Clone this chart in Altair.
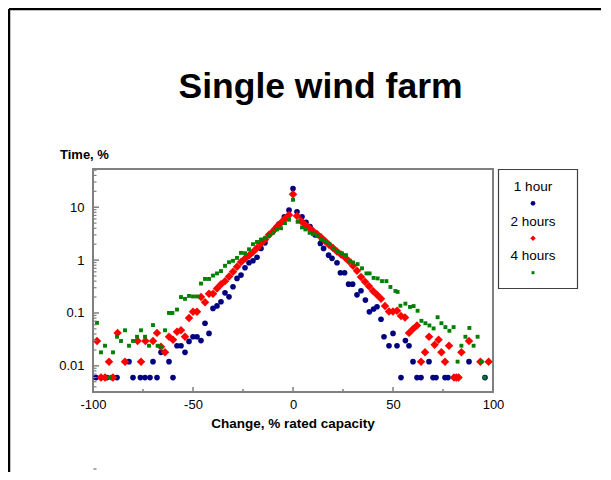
import altair as alt
import pandas as pd

# ---------------- data ----------------
series_names = ["1 hour", "2 hours", "4 hours"]
series_colors = ["#000080", "#ff0000", "#008000"]
series_shapes = ["circle", "diamond", "square"]

blue_x = [-98.5, -96, -93, -90.5, -88, -82, -80, -76.3, -74, -71.5, -70, -68, -66, -62, -60,
          -58, -56, -54, -52, -50, -48, -46, -44, -42, -40, -38, -36, -34, -32, -30, -28, -26,
          -24, -22, -20, -18, -16, -14, -12, -9.5, -7, -4.3, -2, 0, 2, 4.5, 6.5, 8.5, 11, 13.7,
          15.3, 17.8, 19.5, 22, 23.7, 25.8, 27.8, 29.8, 32, 34, 36.2, 38.2, 40.3, 42, 44, 45.5,
          48, 50, 52, 54, 56.2, 58, 60, 62, 64, 68, 70, 71.5, 76, 77.5, 88, 96]
blue_y = [0.006, 0.006, 0.006, 0.006, 0.006, 0.012, 0.006, 0.006, 0.006, 0.006, 0.012, 0.006,
          0.018, 0.012, 0.006, 0.024, 0.024, 0.018, 0.029, 0.0355, 0.0355, 0.03, 0.064, 0.041,
          0.122, 0.136, 0.163, 0.24, 0.202, 0.313, 0.45, 0.52, 0.716, 0.89, 0.97, 1.13, 1.66,
          2.12, 2.97, 3.69, 4.8, 6.6, 8.8, 22.6, 8.2, 6.6, 5.2, 4.3, 3.0, 2.07, 1.66, 1.24, 1.08,
          0.89, 0.575, 0.575, 0.35, 0.35, 0.22, 0.263, 0.175, 0.105, 0.119, 0.131, 0.076, 0.0355,
          0.024, 0.041, 0.024, 0.006, 0.03, 0.024, 0.012, 0.006, 0.006, 0.012, 0.006, 0.006,
          0.006, 0.006, 0.012, 0.006]

red_x = [-98, -96, -94, -92, -90, -87.7, -84, -77.7, -76, -73.8, -70, -68, -66, -64, -62, -60,
         -58, -56, -54, -52, -50, -48, -46, -44, -42, -40, -38, -36, -34, -32, -30, -28, -26, -24,
         -22, -20, -18, -16, -14, -12, -10, -8, -6, -4, -2, 0, 2, 4, 6, 8, 10, 12, 14, 16, 18, 20,
         22, 24, 26, 28, 30, 32, 34, 36, 38, 40, 42, 44, 46, 48, 50, 52, 54, 56, 58, 60, 62, 64,
         66, 68, 70.8, 72.8, 74.2, 76, 78, 80.5, 81.7, 82.8, 84.2, 88, 93.7, 97.8]
red_y = [0.0295, 0.006, 0.006, 0.012, 0.006, 0.042, 0.012, 0.0295, 0.012, 0.0295, 0.0295, 0.042,
         0.023, 0.018, 0.0355, 0.031, 0.044, 0.047, 0.0355, 0.08, 0.105, 0.105, 0.2, 0.16, 0.23,
         0.23, 0.29, 0.35, 0.4, 0.49, 0.6, 0.75, 0.92, 1.07, 1.22, 1.42, 1.7, 2.05, 2.45, 3.0, 3.5,
         4.3, 5.1, 6.1, 7.1, 17.5, 6.8, 5.5, 4.7, 4.1, 3.55, 3.1, 2.7, 2.3, 1.95, 1.7, 1.45, 1.28,
         1.12, 0.95, 0.78, 0.63, 0.48, 0.39, 0.32, 0.26, 0.22, 0.185, 0.135, 0.107, 0.107, 0.11,
         0.088, 0.082, 0.042, 0.05, 0.058, 0.012, 0.018, 0.0355, 0.025, 0.031, 0.018, 0.012, 0.024,
         0.006, 0.006, 0.006, 0.018, 0.0295, 0.012, 0.012]

green_x = [-98, -96, -94, -92, -90, -88, -86, -84, -82, -80, -78, -76, -74, -72, -70, -67.7, -66,
           -64, -62, -60.3, -58, -56, -54, -52, -50, -48, -46, -44, -42, -40, -38, -36, -34, -32,
           -30, -28, -26, -24, -22, -20, -18, -16, -14, -12, -10, -8, -6, -4, -2, 0, 2.3, 4.5, 6.2,
           8.3, 10, 12, 14, 16.2, 18.2, 20.3, 22.3, 24.5, 26.5, 28.5, 30, 32.3, 34.5, 36.7, 38.3,
           40.3, 42.3, 44.5, 46.7, 48.7, 51.2, 52.3, 53.7, 56.2, 58.5, 60.3, 62.3, 64.2, 66.2, 68.2,
           70.3, 72.3, 74.2, 76.2, 78.2, 80.3, 82.3, 84.2, 86.2, 88.2, 90.3, 92.3, 94.2, 95.8]
green_y = [0.065, 0.018, 0.024, 0.006, 0.018, 0.0355, 0.0295, 0.047, 0.024, 0.0295, 0.0355, 0.047,
           0.0355, 0.024, 0.059, 0.024, 0.023, 0.047, 0.1, 0.1, 0.116, 0.2, 0.185, 0.21, 0.205,
           0.205, 0.36, 0.44, 0.44, 0.51, 0.56, 0.62, 0.78, 0.91, 0.97, 1.1, 1.37, 1.35, 1.6, 2.0,
           2.2, 2.45, 2.6, 2.9, 3.3, 3.8, 4.0, 5.0, 5.8, 13.8, 5.3, 4.15, 3.8, 3.28, 3.1, 2.85,
           2.46, 2.22, 2.0, 1.66, 1.44, 1.34, 1.24, 0.97, 0.9, 0.84, 0.7, 0.56, 0.56, 0.46, 0.45,
           0.4, 0.4, 0.31, 0.26, 0.25, 0.137, 0.15, 0.13, 0.135, 0.11, 0.071, 0.064, 0.058, 0.051,
           0.083, 0.064, 0.054, 0.046, 0.054, 0.012, 0.024, 0.0355, 0.052, 0.024, 0.0355, 0.012,
           0.006]

x_major = [-100, -50, 0, 50, 100]
x_minor = [-75, -25, 25, 75]
y_major = [0.01, 0.1, 1, 10]
y_minor = [0.004, 0.005, 0.006, 0.007, 0.008, 0.009,
           0.02, 0.03, 0.04, 0.05, 0.06, 0.07, 0.08, 0.09,
           0.2, 0.3, 0.4, 0.5, 0.6, 0.7, 0.8, 0.9,
           2, 3, 4, 5, 6, 7, 8, 9, 20, 30, 40, 50]

title_text = "Single wind farm"
x_title = "Change, % rated capacity"
y_title = "Time, %"

# ---------------- chart ----------------
W, H = 400, 223
FONT = "Liberation Sans"
GRAY = "#808080"
xscale = alt.Scale(domain=[-100, 100], nice=False, zero=False)
yscale = alt.Scale(type="log", domain=[0.0032, 52.8], nice=False)

x_axis = alt.Axis(values=x_major, title=None, grid=False, domain=False, ticks=False,
                  labelFont=FONT, labelFontSize=13, labelColor="black", labelPadding=6,
                  labelFlush=False,
                  labelExpr="datum.value < 0 ? '-' + (-datum.value) : '' + datum.value")
y_axis = alt.Axis(values=y_major, title=None, grid=False, domain=False, ticks=False,
                  labelFont=FONT, labelFontSize=13, labelColor="black", labelPadding=9,
                  format="~g")

one = pd.DataFrame({"k": [0]})


def series_layer(xs, ys, shape, size, color):
    df = pd.DataFrame({"x": xs, "y": ys})
    return alt.Chart(df).mark_point(shape=shape, size=size, filled=True, color=color,
                                    opacity=1, strokeWidth=0).encode(
        x=alt.X("x:Q", scale=xscale, axis=x_axis),
        y=alt.Y("y:Q", scale=yscale, axis=y_axis),
    )


def txt(s, x, y, size, weight="normal", align="center", baseline="alphabetic"):
    return alt.Chart(one).mark_text(text=s, fontSize=size, fontWeight=weight, font=FONT,
                                    align=align, baseline=baseline, color="black").encode(
        x=alt.value(x), y=alt.value(y))


# ticks (inward)
xt_major = alt.Chart(pd.DataFrame({"x": x_major})).mark_rule(color=GRAY, strokeWidth=1.5).encode(
    x=alt.X("x:Q", scale=xscale, axis=x_axis), y=alt.value(H), y2=alt.value(H - 5))
xt_minor = alt.Chart(pd.DataFrame({"x": x_minor})).mark_rule(color=GRAY, strokeWidth=1.5).encode(
    x=alt.X("x:Q", scale=xscale, axis=x_axis), y=alt.value(H), y2=alt.value(H - 3))
yt_major = alt.Chart(pd.DataFrame({"y": y_major})).mark_rule(color=GRAY, strokeWidth=1.5).encode(
    y=alt.Y("y:Q", scale=yscale, axis=y_axis), x=alt.value(0), x2=alt.value(6))
yt_minor = alt.Chart(pd.DataFrame({"y": y_minor})).mark_rule(color=GRAY, strokeWidth=1.2).encode(
    y=alt.Y("y:Q", scale=yscale, axis=y_axis), x=alt.value(0), x2=alt.value(3.5))

blue = series_layer(blue_x, blue_y, "circle", 32, series_colors[0])
red = series_layer(red_x, red_y, "diamond", 72, series_colors[1])
green = series_layer(green_x, green_y, "square", 15, series_colors[2])

# titles
t_main = txt(title_text, 227.5, -71, 35.5, weight="bold")
t_y = txt(y_title, -33, -10, 13, weight="bold", align="left")
t_x = txt(x_title, 200, 258.5, 13.5, weight="bold")

# legend
leg_box = alt.Chart(one).mark_rect(fill="white", stroke="#404040", strokeWidth=1.2).encode(
    x=alt.value(405.5), x2=alt.value(484.5), y=alt.value(0.5), y2=alt.value(119.5))
leg_layers = [leg_box]
label_y = [18.3, 52.7, 86.7]
sym_y = [34.3, 69.3, 103.7]
sym_size = [22, 30, 9]
for i, name in enumerate(series_names):
    leg_layers.append(txt(name, 440, label_y[i], 13.5, baseline="middle"))
    leg_layers.append(alt.Chart(one).mark_point(shape=series_shapes[i], size=sym_size[i],
                                                filled=True, opacity=1, strokeWidth=0,
                                                color=series_colors[i]).encode(
        x=alt.value(440), y=alt.value(sym_y[i])))

# page frame (slide border) and stray dash
frame_top = alt.Chart(one).mark_rule(color="black", strokeWidth=2.5).encode(
    x=alt.value(-84), x2=alt.value(508), y=alt.value(-160))
frame_left = alt.Chart(one).mark_rule(color="black", strokeWidth=2.5).encode(
    x=alt.value(-84), y=alt.value(-160), y2=alt.value(320))
dash = alt.Chart(one).mark_rule(color="#555555", strokeWidth=1).encode(
    x=alt.value(0.5), x2=alt.value(3.5), y=alt.value(300))

chart = alt.layer(
    blue, red, green, xt_major, xt_minor, yt_major, yt_minor,
    t_main, t_y, t_x, *leg_layers, frame_top, frame_left, dash
).properties(
    width=W, height=H,
    autosize=alt.AutoSizeParams(type="none"),
    padding={"left": 85, "top": 161, "right": 110, "bottom": 80},
    background="white",
).configure_view(stroke=GRAY, strokeWidth=2)

chart.save("out.html", embed_options={"renderer": "svg", "actions": False})
